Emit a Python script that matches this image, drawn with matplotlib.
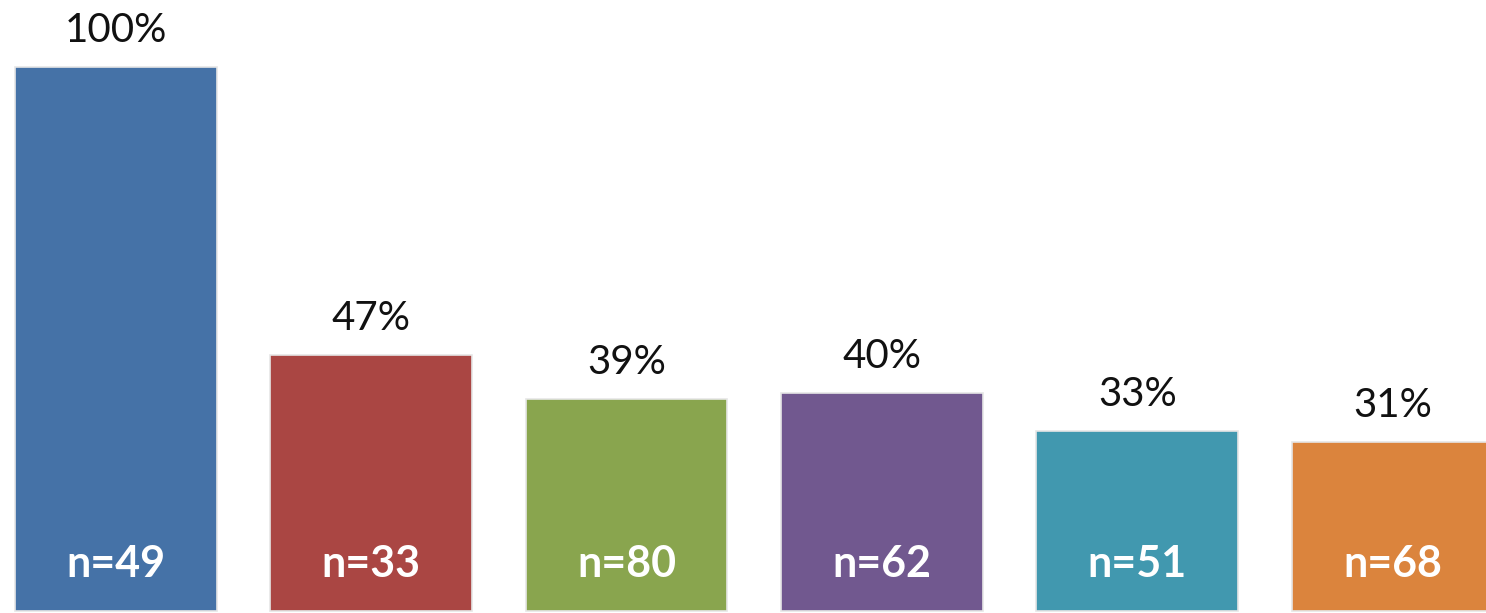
import matplotlib
matplotlib.use("Agg")
import matplotlib.pyplot as plt

values = [100, 47, 39, 40, 33, 31]
pct_labels = ["100%", "47%", "39%", "40%", "33%", "31%"]
n_labels = ["n=49", "n=33", "n=80", "n=62", "n=51", "n=68"]
colors = ["#4572A7", "#AA4643", "#89A54E", "#71588F", "#4198AF", "#DB843D"]

W, H = 1486, 613
fig = plt.figure(figsize=(W / 100, H / 100), dpi=100)
ax = fig.add_axes([0, 0, 1, 1])

x = list(range(len(values)))
ax.bar(x, values, width=0.79, color=colors, edgecolor="#e6e6e6", linewidth=1.2, zorder=2)

for xi, v, pl, nl in zip(x, values, pct_labels, n_labels):
    ax.annotate(pl, (xi, v), xytext=(0, 13), textcoords="offset points",
                ha="center", va="bottom", fontsize=29, family="Lato", color="#111111")
    ax.annotate(nl, (xi, 0), xytext=(0, 34), textcoords="offset points",
                ha="center", va="center", fontsize=31, family="Lato",
                fontweight="bold", color="white")

ax.set_xlim(-0.453, 5.365)
ax.set_ylim(-2 / 5.44, 611 / 5.44)
ax.axis("off")

fig.savefig("out.png", dpi=100, facecolor="white")
